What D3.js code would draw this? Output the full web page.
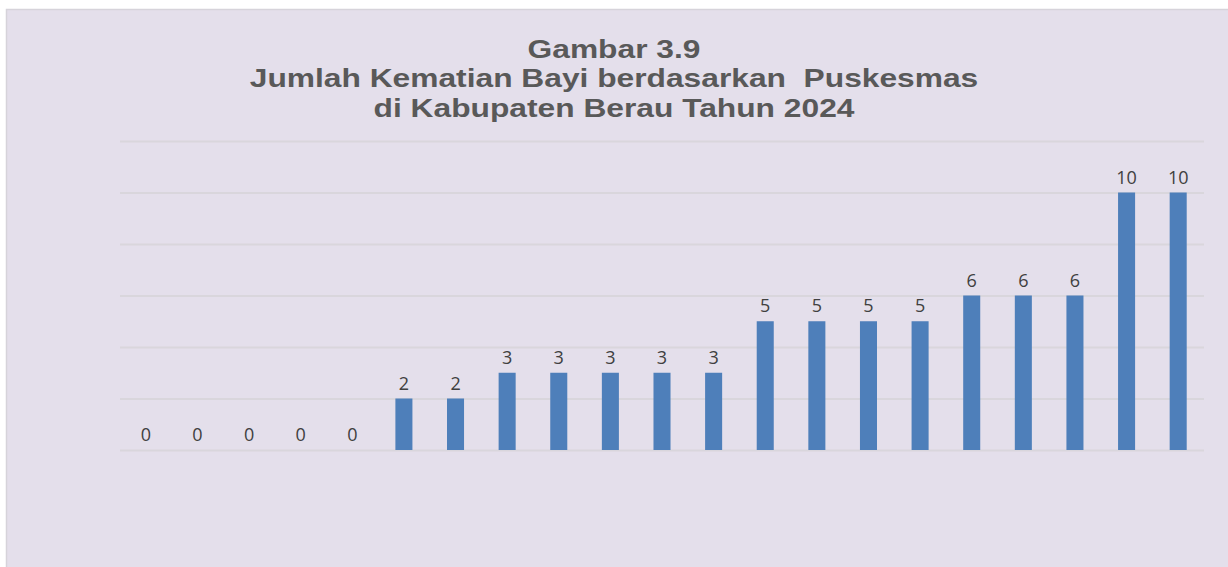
<!DOCTYPE html>
<html>
<head>
<meta charset="utf-8">
<script src="https://cdn.jsdelivr.net/npm/d3@7"></script>
<style>
  html, body { margin: 0; padding: 0; background: #ffffff; }
  #chart { width: 1228px; height: 567px; }
</style>
</head>
<body>
<div id="chart"></div>
<script>
// Data
const categories = ["P1","P2","P3","P4","P5","P6","P7","P8","P9","P10","P11",
    "P12","P13","P14","P15","P16","P17","P18","P19","P20","P21"];
const values = [0,0,0,0,0,2,2,3,3,3,3,3,5,5,5,5,6,6,6,10,10];
const yTicks = [0,2,4,6,8,10,12];
const titleLines = ["Gambar 3.9", "Jumlah Kematian Bayi berdasarkan  Puskesmas", "di Kabupaten Berau Tahun 2024"];

const width = 1228, height = 567;
const margin = { top: 141, right: 24, bottom: 117, left: 120 };
const innerW = width - margin.left - margin.right;

const svg = d3.select("#chart")
    .append("svg")
    .attr("width", width)
    .attr("height", height);

// Chart background panel
svg.append("rect")
    .attr("x", 6.5).attr("y", 9.5)
    .attr("width", width).attr("height", height)
    .attr("fill", "#e4dfeb")
    .attr("stroke", "#d6d3da")
    .attr("stroke-width", 1.5);

// Title (source image is stretched horizontally, so scale the text the same way)
const titleX = 614, stretch = 1.27;
svg.append("g")
    .attr("transform", `translate(${titleX},0) scale(${stretch},1)`)
    .selectAll("text")
    .data(titleLines)
    .enter()
    .append("text")
    .attr("x", 0)
    .attr("y", (d, i) => 58 + i * 29.5)
    .attr("text-anchor", "middle")
    .style("font-family", "'Liberation Sans', Arial, sans-serif")
    .style("font-weight", 700)
    .style("font-size", "25px")
    .style("white-space", "pre")
    .attr("fill", "#595959")
    .text(d => d);

const g = svg.append("g")
    .attr("transform", `translate(${margin.left},${margin.top})`);

const x = d3.scaleBand()
    .domain(categories)
    .range([0, innerW])
    .paddingInner(0.67)
    .paddingOuter(0.335);

const y = d3.scaleLinear()
    .domain([0, 12])
    .range([309, 0]);

// Gridlines
g.append("g")
    .call(d3.axisLeft(y).tickValues(yTicks).tickSize(-innerW).tickFormat(""))
    .call(a => a.select(".domain").remove())
    .selectAll("line")
    .attr("stroke", "#d9d6dc")
    .attr("stroke-width", 2);

// Bars
g.selectAll(".bar")
    .data(values)
    .enter()
    .append("rect")
    .attr("class", "bar")
    .attr("fill", "#4e7fba")
    .attr("x", (d, i) => x(categories[i]))
    .attr("width", x.bandwidth())
    .attr("y", d => y(d))
    .attr("height", d => y(0) - y(d));

// Value labels
g.selectAll(".bar-label")
    .data(values)
    .enter()
    .append("text")
    .attr("class", "bar-label")
    .attr("text-anchor", "middle")
    .style("font-family", "'Open Sans', sans-serif")
    .style("font-size", "18px")
    .attr("fill", "#404040")
    .attr("x", (d, i) => x(categories[i]) + x.bandwidth() / 2)
    .attr("y", d => y(d) - 9)
    .text(d => d);
</script>
</body>
</html>
